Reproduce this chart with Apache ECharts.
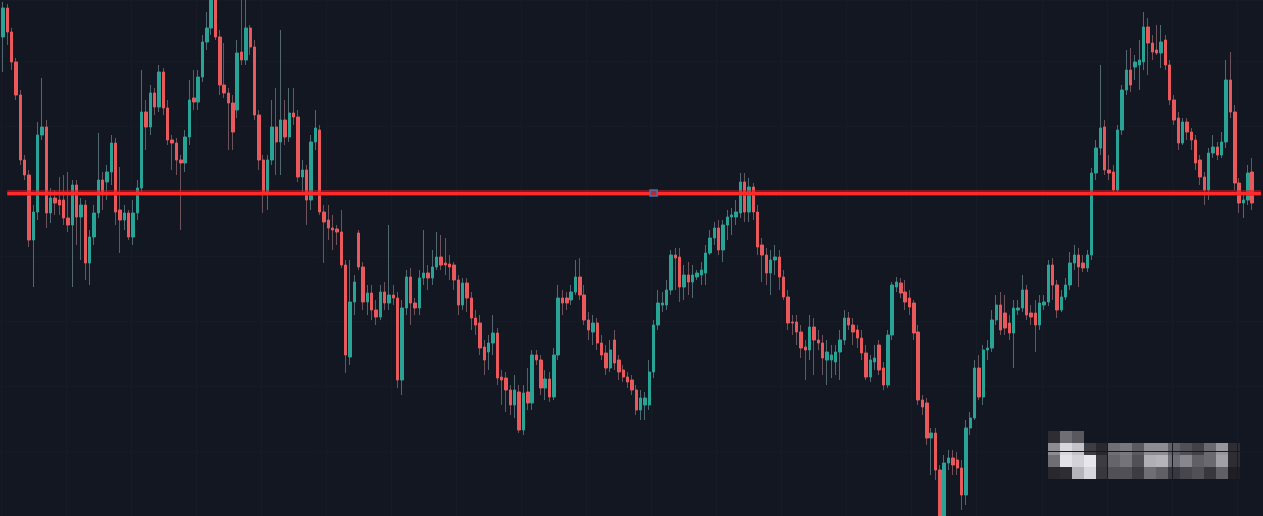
<!DOCTYPE html>
<html>
<head>
<meta charset="utf-8">
<style>
  html, body { margin: 0; padding: 0; background: #131722; }
  #chart { width: 1263px; height: 516px; }
</style>
<script src="https://cdn.jsdelivr.net/npm/echarts/dist/echarts.min.js"></script>
</head>
<body>
<div id="chart"></div>
<script>
// price readings (arbitrary units)
var openV = [
  479,508,484,454,421,356,341,276,304,381, 389,303,318,316,316,298,291,331,299,311,
  253,279,303,336,334,344,373,306,296,303, 279,303,328,404,389,423,409,444,408,376,
  373,356,353,379,418,414,439,474,488,516, 479,431,423,413,406,464,456,488,469,401,
  356,324,356,389,374,396,379,403,399,339, 346,316,374,386,304,296,288,287,284,251,
  159,214,283,249,214,223,206,199,224,213, 221,218,136,208,239,213,208,238,243,238,
  249,259,253,252,251,236,211,233,218,198, 193,169,164,173,183,139,138,126,111,124,
  86,124,113,161,156,128,137,119,161,218, 218,216,224,239,221,196,184,193,173,163,
  148,176,156,146,139,136,126,106,111,111, 144,191,211,211,226,261,259,229,241,234,
  239,241,243,263,278,288,266,291,299,299, 303,334,304,329,304,271,261,243,256,259,
  239,219,194,194,184,169,166,189,176,173, 156,156,154,164,176,198,191,186,178,163,
  139,154,171,148,131,181,229,233,224,218, 213,184,116,113,78,83,46,-4,53,58,
  56,48,21,88,98,148,119,166,168,196, 211,203,193,183,206,208,226,203,203,191,
  211,214,251,231,206,219,231,253,261,253, 248,261,343,368,389,346,344,326,386,426,
  446,449,451,454,489,473,466,463,476,451, 416,398,373,394,384,376,356,339,326,363,
  369,361,374,436,404,333,313,316,344
];
var closeV = [
  508,484,454,421,356,341,276,304,381,389, 303,318,313,311,298,291,331,299,311,253,
  279,303,336,323,344,373,304,296,303,279, 303,328,404,389,423,409,444,408,376,373,
  356,353,379,416,414,439,474,488,516,479, 431,423,413,384,463,456,488,469,401,356,
  324,356,389,374,396,379,403,399,339,346, 316,374,388,304,294,288,286,284,251,161,
  214,234,249,214,223,206,199,224,213,221, 218,136,208,239,213,208,238,243,238,249,
  259,251,251,249,236,211,233,218,198,191, 168,156,173,183,138,136,126,111,126,86,
  123,113,161,156,128,137,119,161,218,213, 213,224,239,221,196,186,193,173,161,148,
  166,153,144,139,134,126,106,118,118,144, 191,213,213,226,261,258,229,241,234,241,
  243,246,263,278,288,266,291,299,301,304, 334,304,329,304,269,261,243,256,259,239,
  219,193,193,184,168,166,189,176,173,158, 164,161,164,176,198,191,184,178,163,139,
  156,158,146,131,181,231,234,223,214,209, 183,116,109,78,83,46,-4,53,58,51,
  48,21,88,98,148,119,166,168,196,211, 186,188,183,208,208,226,201,199,191,213,
  214,251,231,206,219,231,253,261,249,248, 261,343,368,388,346,343,326,386,426,446,
  431,454,456,489,473,464,463,474,451,416, 396,373,394,384,376,353,339,326,363,369,
  361,374,436,404,333,313,316,343,313
];
var highV = [
  514,512,488,458,426,361,346,311,394,438, 396,328,326,339,341,344,336,336,318,316,
  286,311,383,344,351,381,378,349,311,306, 316,336,446,416,431,428,451,448,416,381,
  378,361,386,436,446,446,481,504,521,521, 486,473,428,421,476,516,518,491,476,406,
  361,361,416,428,486,416,428,428,406,356, 351,381,406,391,311,311,301,291,306,256,
  256,241,286,254,231,231,216,231,234,291, 231,224,216,246,248,218,246,286,251,266,
  284,281,278,261,254,241,238,238,224,206, 201,176,181,201,188,146,144,131,141,131,
  131,148,166,166,161,146,144,168,231,226, 224,231,256,258,231,204,201,198,181,171,
  176,186,161,151,144,141,131,126,124,156, 196,226,224,236,266,268,268,251,254,251,
  246,254,271,286,294,296,296,306,308,316, 343,343,338,333,311,278,268,266,271,266,
  246,226,201,201,191,176,201,198,186,181, 176,171,171,186,206,204,198,191,186,171,
  161,171,176,154,186,234,239,238,236,226, 216,191,121,118,88,88,51,61,66,66,
  64,56,96,104,156,161,171,176,206,221, 224,221,201,216,216,241,231,211,216,221,
  221,256,258,236,226,238,264,271,268,261, 266,348,376,451,396,361,351,391,431,466,
  468,461,476,504,498,481,491,491,481,456, 421,404,398,398,388,381,361,344,368,381,
  374,384,456,464,411,338,321,351,358
];
var lowV = [
  444,471,446,416,351,336,269,229,296,376, 288,293,301,301,291,284,229,271,256,236,
  231,271,298,306,316,331,291,263,286,276, 271,296,321,366,381,401,404,401,371,346,
  341,286,344,371,406,406,434,466,481,476, 421,418,366,366,398,451,451,461,396,346,
  303,306,351,341,341,371,374,391,334,321, 291,306,366,301,253,276,266,271,248,143,
  151,201,246,206,201,196,191,196,206,206, 211,128,121,201,191,201,201,231,226,231,
  246,246,241,236,226,201,206,204,186,181, 161,141,146,161,131,111,104,101,98,83,
  81,106,106,151,121,116,114,116,156,201, 206,211,221,216,191,176,171,166,156,141,
  144,146,136,134,128,121,101,96,96,106, 138,186,204,206,221,226,214,216,221,218,
  236,231,231,261,271,261,254,276,281,291, 298,294,294,296,261,234,231,221,241,226,
  216,186,181,171,158,136,156,141,166,141, 131,138,141,136,171,186,171,168,156,136,
  134,146,141,126,128,176,224,218,206,201, 176,111,101,71,41,36,-14,-14,46,41,
  41,6,11,81,96,116,111,156,164,191, 181,181,176,148,201,204,196,191,164,186,
  206,210,216,198,204,216,226,246,229,244, 244,256,336,361,341,336,321,324,381,421,
  424,436,426,446,441,456,461,448,446,411, 391,366,371,376,366,346,331,311,316,358,
  356,358,368,398,326,303,298,311,306
];
// horizontal level drawn across the chart
var levelV = 323;
// blurred logo blocks (grey levels), bottom right
var blurRows = [
  [45, 110, 88, 0, 0, 0, 0, 0, 0, 0, 0, 0, 0, 0, 0, 0],
  [140, 215, 195, 60, 40, 110, 120, 90, 140, 140, 95, 80, 65, 105, 150, 45],
  [110, 225, 210, 230, 60, 100, 115, 80, 175, 180, 110, 135, 95, 105, 160, 45],
  [40, 45, 180, 215, 55, 80, 80, 60, 110, 95, 55, 70, 80, 55, 95, 30]
];

var n = openV.length;
var categories = [];
for (var i = 0; i < n + 2; i++) categories.push(String(i + 1));

var wickData = [];
var bodyData = [];
for (var k = 0; k < n; k++) {
  wickData.push([openV[k], closeV[k], lowV[k], highV[k]]);
  bodyData.push([openV[k], closeV[k], Math.min(openV[k], closeV[k]), Math.max(openV[k], closeV[k])]);
}

var blocks = [];
blurRows.forEach(function (row, r) {
  row.forEach(function (g, c) {
    if (!g) return;
    blocks.push({
      type: 'rect',
      shape: { x: 1048 + c * 12, y: 431 + r * 12, width: 12, height: 12 },
      style: { fill: 'rgb(' + g + ',' + g + ',' + (g + 6) + ')' },
      silent: true
    });
  });
});

var myChart = echarts.init(document.getElementById('chart'));
var option = {
  backgroundColor: '#131722',
  animation: false,
  grid: { left: 0.8, right: 0, top: 0, bottom: 0 },
  xAxis: {
    type: 'category',
    data: categories,
    boundaryGap: true,
    axisLine: { show: false },
    axisTick: { show: false },
    axisLabel: { show: false },
    splitLine: {
      show: true,
      interval: function (idx) { return idx % 15 === 0; },
      lineStyle: { color: '#171b26', width: 1 }
    }
  },
  yAxis: {
    type: 'value',
    min: 0,
    max: 516,
    interval: 65,
    axisLine: { show: false },
    axisTick: { show: false },
    axisLabel: { show: false },
    splitLine: { show: true, lineStyle: { color: '#161a25', width: 1 } }
  },
  series: [
    {
      name: 'wick',
      type: 'candlestick',
      data: wickData,
      barWidth: 1,
      silent: true,
      itemStyle: {
        color: 'rgba(110,140,145,0.7)',
        color0: 'rgba(150,110,118,0.7)',
        borderColor: 'rgba(110,140,145,0.7)',
        borderColor0: 'rgba(150,110,118,0.7)',
        borderWidth: 1
      }
    },
    {
      name: 'body',
      type: 'candlestick',
      data: bodyData,
      barWidth: 2.9,
      itemStyle: {
        color: '#2aa397',
        color0: '#e9585a',
        borderColor: '#2aa397',
        borderColor0: '#e9585a',
        borderWidth: 1
      },
      markLine: {
        silent: true,
        symbol: 'none',
        label: { show: false },
        data: [
          [
            { coord: [1, levelV], lineStyle: { color: 'rgba(200,30,40,0.55)', width: 6, type: 'solid' } },
            { coord: [n + 1, levelV] }
          ],
          [
            { coord: [1, levelV], lineStyle: { color: '#ff2b2b', width: 3, type: 'solid' } },
            { coord: [n + 1, levelV] }
          ]
        ]
      },
      markPoint: {
        silent: true,
        label: { show: false },
        data: [{
          coord: [150, levelV],
          symbol: 'rect',
          symbolSize: [7, 6],
          itemStyle: { color: '#b52a35', borderColor: '#4d6fa8', borderWidth: 1.5 }
        }]
      }
    }
  ],
  graphic: blocks
};
myChart.setOption(option);
</script>
</body>
</html>
